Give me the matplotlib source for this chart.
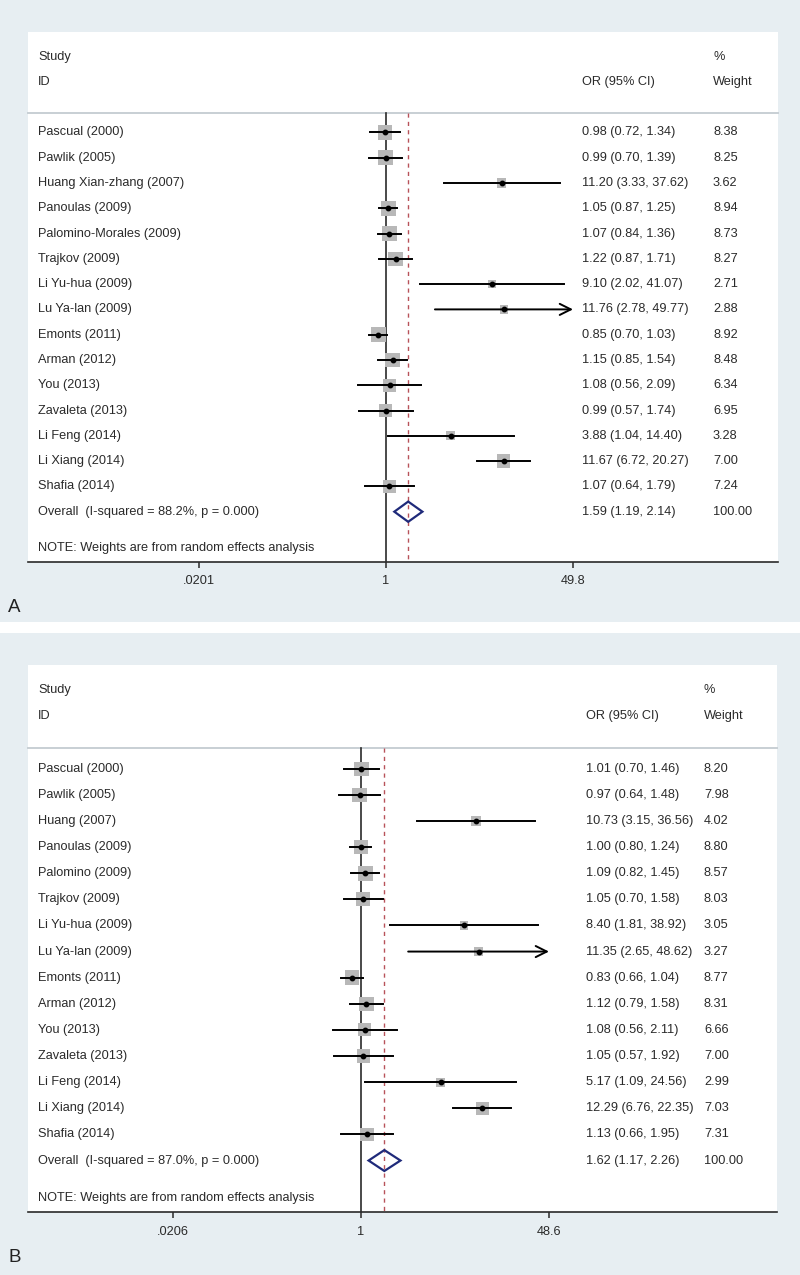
import numpy as np
import matplotlib.pyplot as plt
import matplotlib.transforms as mtransforms
from matplotlib.patches import Polygon, Rectangle

plt.rcParams['font.family'] = ['Liberation Sans', 'DejaVu Sans']

# panel A data
studies_a = ["Pascual (2000)", "Pawlik (2005)", "Huang Xian-zhang (2007)", "Panoulas (2009)",
             "Palomino-Morales (2009)", "Trajkov (2009)", "Li Yu-hua (2009)", "Lu Ya-lan (2009)",
             "Emonts (2011)", "Arman (2012)", "You (2013)", "Zavaleta (2013)", "Li Feng (2014)",
             "Li Xiang (2014)", "Shafia (2014)"]
or_a = [0.98, 0.99, 11.20, 1.05, 1.07, 1.22, 9.10, 11.76, 0.85, 1.15, 1.08, 0.99, 3.88, 11.67, 1.07]
lo_a = [0.72, 0.70, 3.33, 0.87, 0.84, 0.87, 2.02, 2.78, 0.70, 0.85, 0.56, 0.57, 1.04, 6.72, 0.64]
hi_a = [1.34, 1.39, 37.62, 1.25, 1.36, 1.71, 41.07, 49.77, 1.03, 1.54, 2.09, 1.74, 14.40, 20.27, 1.79]
w_a = [8.38, 8.25, 3.62, 8.94, 8.73, 8.27, 2.71, 2.88, 8.92, 8.48, 6.34, 6.95, 3.28, 7.00, 7.24]
overall_a = [1.59, 1.19, 2.14]
isq_a = "88.2%"
ticks_a = [0.0201, 1, 49.8]
ticklabels_a = [".0201", "1", "49.8"]

# panel B data
studies_b = ["Pascual (2000)", "Pawlik (2005)", "Huang (2007)", "Panoulas (2009)",
             "Palomino (2009)", "Trajkov (2009)", "Li Yu-hua (2009)", "Lu Ya-lan (2009)",
             "Emonts (2011)", "Arman (2012)", "You (2013)", "Zavaleta (2013)", "Li Feng (2014)",
             "Li Xiang (2014)", "Shafia (2014)"]
or_b = [1.01, 0.97, 10.73, 1.00, 1.09, 1.05, 8.40, 11.35, 0.83, 1.12, 1.08, 1.05, 5.17, 12.29, 1.13]
lo_b = [0.70, 0.64, 3.15, 0.80, 0.82, 0.70, 1.81, 2.65, 0.66, 0.79, 0.56, 0.57, 1.09, 6.76, 0.66]
hi_b = [1.46, 1.48, 36.56, 1.24, 1.45, 1.58, 38.92, 48.62, 1.04, 1.58, 2.11, 1.92, 24.56, 22.35, 1.95]
w_b = [8.20, 7.98, 4.02, 8.80, 8.57, 8.03, 3.05, 3.27, 8.77, 8.31, 6.66, 7.00, 2.99, 7.03, 7.31]
overall_b = [1.62, 1.17, 2.26]
isq_b = "87.0%"
ticks_b = [0.0206, 1, 48.6]
ticklabels_b = [".0206", "1", "48.6"]

W, H = 800, 1275
BG = "#e7eef2"
TXT = "#2a2a2a"
FS = 9.2

fig = plt.figure(figsize=(W / 100, H / 100), dpi=100)
fig.patch.set_facecolor(BG)
fig.patches.append(Rectangle((0, 1 - 633 / H), 1, 11 / H, transform=fig.transFigure,
                             facecolor="white", edgecolor="none", zorder=0))


def panel(top, bottom, left, right, x_one, ppl, or_col, wt_col,
          studies, ors, los, his, ws, overall, isq, ticks, ticklabels, letter, letter_y):
    ax = fig.add_axes([left / W, 1 - bottom / H, (right - left) / W, (bottom - top) / H])
    ax.set_facecolor("white")
    ax.set_xscale("log")
    ax.set_xlim(np.exp((left - x_one) / ppl), np.exp((right - x_one) / ppl))
    ax.set_ylim(16.97, -3.97)
    for s in ["top", "left", "right"]:
        ax.spines[s].set_visible(False)
    ax.spines["bottom"].set_color(TXT)
    ax.spines["bottom"].set_linewidth(1.2)
    ax.set_yticks([])
    ax.minorticks_off()
    ax.set_xticks(ticks)
    ax.set_xticklabels(ticklabels)
    ax.tick_params(axis="x", length=4, width=1.1, color=TXT, pad=6, labelsize=FS, labelcolor=TXT)

    tr = mtransforms.blended_transform_factory(ax.transAxes, ax.transData)
    fx = lambda px: (px - left) / (right - left)
    xmax = ticks[-1]
    n = len(studies)

    # header
    ax.text(fx(38), -3.0, "Study", transform=tr, fontsize=FS, color=TXT, va="center")
    ax.text(fx(38), -2.0, "ID", transform=tr, fontsize=FS, color=TXT, va="center")
    ax.text(fx(or_col), -2.0, "OR (95% CI)", transform=tr, fontsize=FS, color=TXT, va="center")
    ax.text(fx(wt_col), -3.0, "%", transform=tr, fontsize=FS, color=TXT, va="center")
    ax.text(fx(wt_col), -2.0, "Weight", transform=tr, fontsize=FS, color=TXT, va="center")
    ax.plot([0, 1], [-0.78, -0.78], transform=tr, color="#c8cfd4", lw=1.4, clip_on=False)

    ybot = ax.get_ylim()[0]
    ax.plot([1, 1], [-0.78, ybot], color=TXT, lw=1.2, zorder=2)
    ax.plot([overall[0]] * 2, [-0.78, ybot], color="#b8525a", lw=1.0,
            ls=(0, (3, 3)), zorder=2)

    rows = np.arange(n)
    ax.scatter(ors, rows, marker="s", s=np.array(ws) * 13, color="#b8b8b8",
               edgecolors="none", zorder=3)
    for i in range(n):
        if his[i] >= xmax * 0.99:
            ax.annotate("", xy=(xmax, i), xytext=(los[i], i),
                        arrowprops=dict(arrowstyle="->,head_length=0.8,head_width=0.4",
                                        color="black", lw=1.4, shrinkA=0, shrinkB=0),
                        zorder=4)
        else:
            ax.plot([los[i], his[i]], [i, i], color="black", lw=1.4, zorder=4)
        ax.plot(ors[i], i, "o", color="black", ms=3.2, zorder=5)
        ax.text(fx(38), i, studies[i], transform=tr, fontsize=FS, color=TXT, va="center")
        ax.text(fx(or_col), i, f"{ors[i]:.2f} ({los[i]:.2f}, {his[i]:.2f})",
                transform=tr, fontsize=FS, color=TXT, va="center")
        ax.text(fx(wt_col), i, f"{ws[i]:.2f}", transform=tr, fontsize=FS, color=TXT, va="center")

    # overall
    est, lo, hi = overall
    ax.add_patch(Polygon([(lo, n), (est, n - 0.4), (hi, n), (est, n + 0.4)], closed=True,
                         fill=False, edgecolor="#1f2a7a", lw=1.6, zorder=5))
    ax.text(fx(38), n, f"Overall  (I-squared = {isq}, p = 0.000)", transform=tr,
            fontsize=FS, color=TXT, va="center")
    ax.text(fx(or_col), n, f"{est:.2f} ({lo:.2f}, {hi:.2f})", transform=tr,
            fontsize=FS, color=TXT, va="center")
    ax.text(fx(wt_col), n, "100.00", transform=tr, fontsize=FS, color=TXT, va="center")
    ax.text(fx(38), 16.45, "NOTE: Weights are from random effects analysis", transform=tr,
            fontsize=FS, color=TXT, va="center")

    fig.text(8 / W, 1 - letter_y / H, letter, fontsize=13.5, color="#222222", va="center")
    return ax


panel(32, 561.5, 28, 778, 386, 47.85, 582, 713, studies_a, or_a, lo_a, hi_a, w_a,
      overall_a, isq_a, ticks_a, ticklabels_a, "A", 608)
panel(665, 1212, 28, 777, 361, 48.4, 586, 704, studies_b, or_b, lo_b, hi_b, w_b,
      overall_b, isq_b, ticks_b, ticklabels_b, "B", 1257)

fig.savefig("out.png", dpi=100, facecolor=fig.get_facecolor())
